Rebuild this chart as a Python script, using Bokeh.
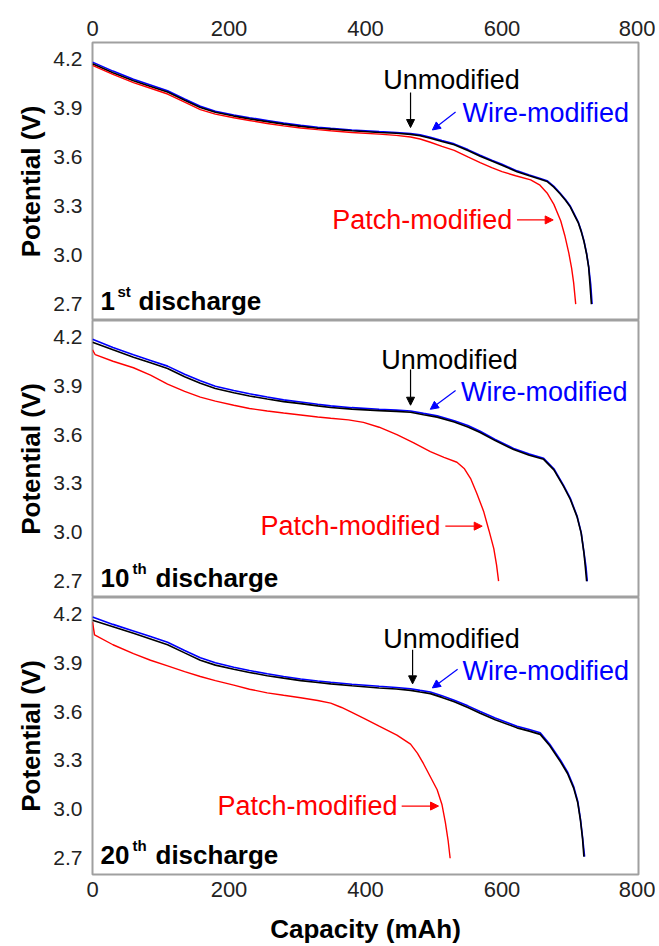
from bokeh.plotting import figure
from bokeh.models import Range1d, FixedTicker, NumeralTickFormatter, Label, Arrow, NormalHead
from bokeh.layouts import column
from bokeh.embed import file_html
from bokeh.resources import INLINE

# ---------------- data ----------------
x_ticks = [0, 200, 400, 600, 800]
y_ticks = [2.7, 3.0, 3.3, 3.6, 3.9, 4.2]

# 1st discharge
wire1_x = [0, 30, 60, 85, 110, 135, 158, 180, 207, 230, 256, 280, 305, 330, 349, 380, 420, 445, 466, 480, 495, 512, 530, 550, 568, 585, 600, 622, 640, 655, 666, 676, 685, 693, 700, 706, 712, 716, 720, 724, 727, 730, 732]
wire1_y = [4.18, 4.125, 4.075, 4.04, 4.005, 3.955, 3.91, 3.88, 3.857, 3.84, 3.823, 3.807, 3.793, 3.782, 3.775, 3.765, 3.755, 3.75, 3.743, 3.735, 3.72, 3.70, 3.68, 3.645, 3.61, 3.58, 3.555, 3.515, 3.49, 3.47, 3.455, 3.42, 3.38, 3.34, 3.30, 3.25, 3.20, 3.15, 3.09, 3.01, 2.93, 2.82, 2.70]
unmod1_x = [0, 30, 60, 85, 110, 135, 158, 180, 207, 230, 256, 280, 305, 330, 349, 380, 420, 445, 466, 480, 495, 512, 530, 550, 568, 585, 600, 622, 640, 655, 666, 676, 685, 693, 700, 706, 712, 716, 720, 724, 727, 729, 731]
unmod1_y = [4.17, 4.115, 4.066, 4.031, 3.997, 3.947, 3.902, 3.873, 3.85, 3.833, 3.816, 3.801, 3.787, 3.776, 3.77, 3.76, 3.75, 3.745, 3.738, 3.73, 3.715, 3.695, 3.675, 3.64, 3.605, 3.575, 3.55, 3.51, 3.485, 3.465, 3.45, 3.415, 3.375, 3.335, 3.295, 3.245, 3.195, 3.145, 3.085, 3.005, 2.925, 2.815, 2.70]
patch1_x = [0, 30, 60, 85, 110, 135, 158, 180, 207, 230, 256, 280, 305, 330, 349, 380, 420, 445, 466, 480, 495, 512, 530, 550, 568, 585, 600, 620, 642, 655, 666, 676, 686, 692, 698, 702, 705, 708]
patch1_y = [4.16, 4.105, 4.055, 4.02, 3.985, 3.935, 3.89, 3.862, 3.84, 3.823, 3.805, 3.79, 3.777, 3.767, 3.76, 3.75, 3.74, 3.732, 3.722, 3.71, 3.69, 3.665, 3.64, 3.60, 3.565, 3.535, 3.51, 3.485, 3.46, 3.43, 3.38, 3.31, 3.21, 3.12, 3.01, 2.92, 2.83, 2.70]

# 10th discharge
wire10_x = [0, 30, 60, 85, 110, 135, 158, 180, 207, 230, 256, 280, 305, 330, 349, 380, 420, 445, 466, 485, 505, 530, 550, 568, 590, 617, 640, 661, 676, 690, 700, 710, 716, 720, 723, 725]
wire10_y = [4.185, 4.135, 4.09, 4.055, 4.02, 3.97, 3.93, 3.897, 3.87, 3.85, 3.83, 3.813, 3.80, 3.786, 3.776, 3.765, 3.755, 3.75, 3.745, 3.73, 3.715, 3.685, 3.655, 3.62, 3.57, 3.515, 3.48, 3.455, 3.39, 3.29, 3.21, 3.10, 3.00, 2.88, 2.79, 2.70]
unmod10_x = [0, 30, 60, 85, 110, 135, 158, 180, 207, 230, 256, 280, 305, 330, 349, 380, 420, 445, 466, 485, 505, 530, 550, 568, 590, 617, 640, 661, 676, 690, 700, 710, 716, 720, 722, 724]
unmod10_y = [4.166, 4.12, 4.075, 4.04, 4.005, 3.955, 3.915, 3.883, 3.857, 3.837, 3.818, 3.802, 3.79, 3.776, 3.766, 3.756, 3.747, 3.742, 3.737, 3.722, 3.707, 3.677, 3.647, 3.613, 3.563, 3.508, 3.473, 3.448, 3.383, 3.283, 3.203, 3.095, 2.995, 2.875, 2.79, 2.70]
patch10_x = [0, 4, 30, 60, 85, 110, 135, 158, 180, 207, 230, 256, 280, 305, 330, 349, 375, 397, 420, 446, 470, 495, 515, 534, 545, 554, 563, 573, 581, 588, 592, 595]
patch10_y = [4.12, 4.09, 4.05, 4.01, 3.965, 3.91, 3.865, 3.83, 3.805, 3.78, 3.76, 3.745, 3.732, 3.72, 3.708, 3.70, 3.69, 3.675, 3.645, 3.60, 3.55, 3.495, 3.46, 3.43, 3.39, 3.33, 3.24, 3.13, 3.01, 2.90, 2.80, 2.70]

# 20th discharge
wire20_x = [0, 30, 60, 85, 110, 135, 158, 180, 207, 230, 256, 280, 305, 330, 349, 380, 420, 445, 466, 480, 495, 512, 530, 550, 568, 590, 622, 640, 656, 670, 686, 696, 705, 711, 715, 718, 721]
wire20_y = [4.18, 4.135, 4.095, 4.06, 4.025, 3.975, 3.93, 3.90, 3.872, 3.852, 3.832, 3.815, 3.80, 3.788, 3.78, 3.768, 3.755, 3.748, 3.74, 3.73, 3.72, 3.697, 3.67, 3.635, 3.60, 3.56, 3.51, 3.49, 3.47, 3.40, 3.30, 3.23, 3.14, 3.05, 2.94, 2.83, 2.71]
unmod20_x = [0, 30, 60, 85, 110, 135, 158, 180, 207, 230, 256, 280, 305, 330, 349, 380, 420, 445, 466, 480, 495, 512, 530, 550, 568, 590, 622, 640, 656, 670, 686, 696, 705, 711, 715, 718, 720]
unmod20_y = [4.16, 4.12, 4.08, 4.045, 4.01, 3.96, 3.915, 3.885, 3.86, 3.84, 3.82, 3.805, 3.79, 3.778, 3.77, 3.758, 3.745, 3.738, 3.73, 3.72, 3.71, 3.687, 3.66, 3.625, 3.59, 3.55, 3.50, 3.48, 3.46, 3.39, 3.29, 3.22, 3.13, 3.04, 2.93, 2.82, 2.71]
patch20_x = [0, 3, 30, 60, 85, 110, 135, 158, 180, 207, 230, 256, 280, 305, 330, 349, 365, 380, 397, 420, 446, 466, 476, 485, 495, 505, 512, 517, 521, 524]
patch20_y = [4.15, 4.07, 4.01, 3.955, 3.915, 3.88, 3.845, 3.815, 3.79, 3.762, 3.737, 3.715, 3.70, 3.685, 3.668, 3.652, 3.625, 3.595, 3.56, 3.51, 3.455, 3.40, 3.345, 3.28, 3.20, 3.12, 3.03, 2.92, 2.81, 2.70]

panels = [
    dict(num="1", sup="st", wire=(wire1_x, wire1_y), unmod=(unmod1_x, unmod1_y), patch=(patch1_x, patch1_y)),
    dict(num="10", sup="th", wire=(wire10_x, wire10_y), unmod=(unmod10_x, unmod10_y), patch=(patch10_x, patch10_y)),
    dict(num="20", sup="th", wire=(wire20_x, wire20_y), unmod=(unmod20_x, unmod20_y), patch=(patch20_x, patch20_y)),
]

# annotation placements (layout, per panel)
ann = [
    dict(u=(526, 4.07), ua=(466, 3.995, 3.78), w=(542, 3.867), wa=(532, 3.875, 498, 3.765), p=(615, 3.215), pa=(622, 675, 3.215), sx=(25, 46)),
    dict(u=(523, 4.06), ua=(466, 4.0, 3.78), w=(540, 3.86), wa=(532, 3.87, 495, 3.755), p=(510, 3.038), pa=(517, 571, 3.038), sx=(40, 63)),
    dict(u=(526, 4.045), ua=(469, 3.98, 3.77), w=(542, 3.85), wa=(535, 3.86, 498, 3.745), p=(447, 3.02), pa=(453, 507, 3.02), sx=(40, 63)),
]

FONT = "Liberation Sans"
GRID = "#a0a0a0"
ANN_SIZE = "27px"

x_range = Range1d(0, 800)
figs = []
heights = [320, 277, 349]
for i, (pn, an) in enumerate(zip(panels, ann)):
    xloc = "above" if i == 0 else ("below" if i == 2 else None)
    p = figure(width=655, height=heights[i], x_range=x_range, y_range=Range1d(2.6, 4.3),
               output_backend="svg", toolbar_location=None, x_axis_location=xloc,
               min_border_left=92, min_border_right=17,
               min_border_top=42 if i == 0 else 0,
               min_border_bottom=71 if i == 2 else 0)
    p.outline_line_color = GRID
    p.outline_line_width = 2
    p.xgrid.visible = False
    p.ygrid.visible = False

    # y axis
    ya = p.yaxis[0]
    ya.ticker = FixedTicker(ticks=y_ticks)
    ya.formatter = NumeralTickFormatter(format="0.0")
    ya.axis_label = "Potential (V)"
    ya.axis_label_text_font = FONT
    ya.axis_label_text_font_style = "bold"
    ya.axis_label_text_font_size = "26px"
    ya.axis_label_text_color = "black"
    ya.axis_label_standoff = 4
    ya.major_label_text_font = FONT
    ya.major_label_text_font_size = "21px"
    ya.major_label_text_color = "#222222"
    ya.major_label_standoff = 10
    ya.axis_line_color = None
    ya.major_tick_line_color = None
    ya.minor_tick_line_color = None
    ya.major_tick_out = 0
    ya.major_tick_in = 0
    ya.minor_tick_out = 0
    ya.minor_tick_in = 0

    if xloc is not None:
        xa = p.xaxis[0]
        xa.ticker = FixedTicker(ticks=x_ticks)
        xa.major_label_text_font = FONT
        xa.major_label_text_font_size = "22px"
        xa.major_label_text_color = "#222222"
        xa.major_label_standoff = 7
        xa.axis_line_color = None
        xa.major_tick_line_color = None
        xa.minor_tick_line_color = None
        xa.major_tick_out = 0
        xa.major_tick_in = 0
        xa.minor_tick_out = 0
        xa.minor_tick_in = 0
        if i == 2:
            xa.axis_label = "Capacity (mAh)"
            xa.axis_label_text_font = FONT
            xa.axis_label_text_font_style = "bold"
            xa.axis_label_text_font_size = "26px"
            xa.axis_label_text_color = "black"
            xa.axis_label_standoff = 14

    # curves
    p.line(pn["wire"][0], pn["wire"][1], line_color="blue", line_width=1.6)
    p.line(pn["unmod"][0], pn["unmod"][1], line_color="black", line_width=1.6)
    p.line(pn["patch"][0], pn["patch"][1], line_color="red", line_width=1.4)

    # labels
    p.add_layout(Label(x=an["u"][0], y=an["u"][1], text="Unmodified", text_align="center",
                       text_baseline="middle", text_font=FONT, text_font_size=ANN_SIZE, text_color="black"))
    p.add_layout(Arrow(x_start=an["ua"][0], y_start=an["ua"][1], x_end=an["ua"][0], y_end=an["ua"][2],
                       line_color="black", line_width=1.2,
                       end=NormalHead(size=8, fill_color="black", line_color="black")))
    p.add_layout(Label(x=an["w"][0], y=an["w"][1], text="Wire-modified", text_align="left",
                       text_baseline="middle", text_font=FONT, text_font_size=ANN_SIZE, text_color="blue"))
    p.add_layout(Arrow(x_start=an["wa"][0], y_start=an["wa"][1], x_end=an["wa"][2], y_end=an["wa"][3],
                       line_color="blue", line_width=1.2,
                       end=NormalHead(size=8, fill_color="blue", line_color="blue")))
    p.add_layout(Label(x=an["p"][0], y=an["p"][1], text="Patch-modified", text_align="right",
                       text_baseline="middle", text_font=FONT, text_font_size=ANN_SIZE, text_color="red"))
    p.add_layout(Arrow(x_start=an["pa"][0], y_start=an["pa"][2], x_end=an["pa"][1], y_end=an["pa"][2],
                       line_color="red", line_width=1.2,
                       end=NormalHead(size=8, fill_color="red", line_color="red")))

    # discharge label
    p.add_layout(Label(x=0, y=2.72, x_offset=8, text=pn["num"], text_baseline="middle",
                       text_font=FONT, text_font_style="bold", text_font_size="26px", text_color="black"))
    p.add_layout(Label(x=0, y=2.72, x_offset=an["sx"][0], y_offset=9, text=pn["sup"], text_baseline="middle",
                       text_font=FONT, text_font_style="bold", text_font_size="15px", text_color="black"))
    p.add_layout(Label(x=0, y=2.72, x_offset=an["sx"][1], text="discharge", text_baseline="middle",
                       text_font=FONT, text_font_style="bold", text_font_size="26px", text_color="black"))
    figs.append(p)

layout = column(*figs, spacing=0)
open("out.html", "w").write(file_html(layout, INLINE))
